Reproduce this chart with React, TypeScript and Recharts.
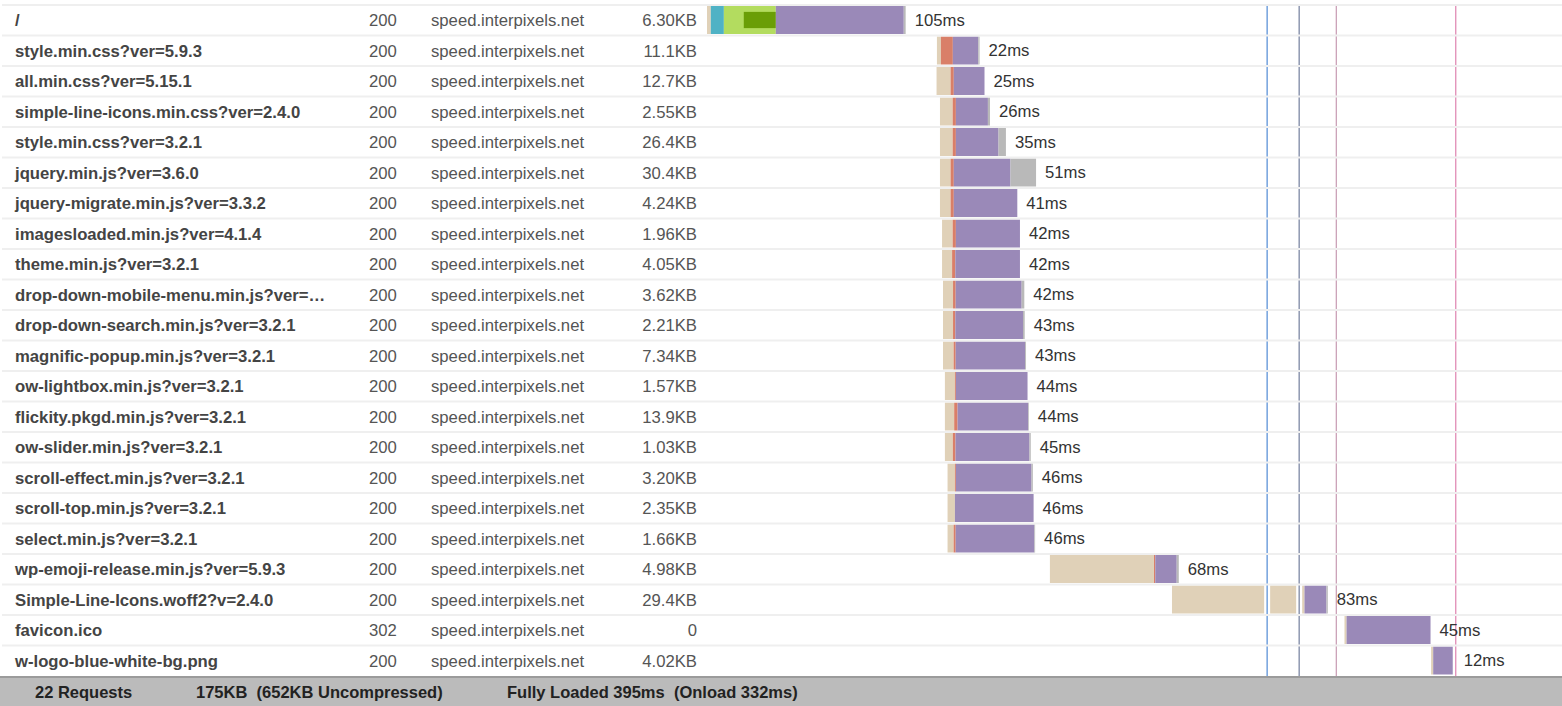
import React from "react";
import { BarChart, Bar, XAxis, YAxis, ReferenceLine, LabelList } from "recharts";

const files = [
  "/",
  "style.min.css?ver=5.9.3",
  "all.min.css?ver=5.15.1",
  "simple-line-icons.min.css?ver=2.4.0",
  "style.min.css?ver=3.2.1",
  "jquery.min.js?ver=3.6.0",
  "jquery-migrate.min.js?ver=3.3.2",
  "imagesloaded.min.js?ver=4.1.4",
  "theme.min.js?ver=3.2.1",
  "drop-down-mobile-menu.min.js?ver=…",
  "drop-down-search.min.js?ver=3.2.1",
  "magnific-popup.min.js?ver=3.2.1",
  "ow-lightbox.min.js?ver=3.2.1",
  "flickity.pkgd.min.js?ver=3.2.1",
  "ow-slider.min.js?ver=3.2.1",
  "scroll-effect.min.js?ver=3.2.1",
  "scroll-top.min.js?ver=3.2.1",
  "select.min.js?ver=3.2.1",
  "wp-emoji-release.min.js?ver=5.9.3",
  "Simple-Line-Icons.woff2?v=2.4.0",
  "favicon.ico",
  "w-logo-blue-white-bg.png",
];
const statuses = [200, 200, 200, 200, 200, 200, 200, 200, 200, 200, 200, 200, 200, 200, 200, 200, 200, 200, 200, 200, 302, 200];
const host = "speed.interpixels.net";
const sizes = [
  "6.30KB", "11.1KB", "12.7KB", "2.55KB", "26.4KB", "30.4KB", "4.24KB", "1.96KB", "4.05KB", "3.62KB", "2.21KB",
  "7.34KB", "1.57KB", "13.9KB", "1.03KB", "3.20KB", "2.35KB", "1.66KB", "4.98KB", "29.4KB", "0", "4.02KB",
];
const durations = [105, 22, 25, 26, 35, 51, 41, 42, 42, 42, 43, 43, 44, 44, 45, 46, 46, 46, 68, 83, 45, 12];

// timings in ms
const starts = [0, 121.3, 121.1, 122.9, 122.9, 122.9, 122.9, 124.0, 124.0, 124.5, 124.5, 124.5, 125.5, 125.5, 125.5, 126.9, 126.9, 126.9, 180.9, 245.3, 336.3, 382.0];
const blocked = [2.0, 2.1, 7.4, 6.7, 6.7, 5.6, 5.6, 5.6, 5.3, 5.3, 5.3, 5.6, 5.3, 4.9, 4.2, 3.9, 3.9, 3.2, 54.9, 69.9, 1.1, 1.1];
const dns = [6.9, 0, 0, 0, 0, 0, 0, 0, 0, 0, 0, 0, 0, 0, 0, 0, 0, 0, 0, 0, 0, 0];
const connect = [27.4, 0, 0, 0, 0, 0, 0, 0, 0, 0, 0, 0, 0, 0, 0, 0, 0, 0, 0, 0, 0, 0];
const ssl = [16.9, 0, 0, 0, 0, 0, 0, 0, 0, 0, 0, 0, 0, 0, 0, 0, 0, 0, 0, 0, 0, 0];
const ttfb = [0, 6.3, 1.7, 1.7, 1.7, 1.7, 1.7, 1.7, 1.7, 1.4, 1.2, 1.1, 0.5, 1.8, 1.4, 0.5, 0, 1.1, 0.7, 0, 0, 0];
const download = [67.5, 13.4, 16.2, 16.9, 22.5, 29.9, 33.5, 33.8, 34.1, 34.8, 35.7, 36.6, 37.8, 37.2, 39.0, 39.9, 41.5, 41.5, 11.3, 11.6, 44.3, 10.5];
const tail = [1.0, 0.7, 0, 1.1, 3.9, 13.5, 0, 0, 0, 1.4, 0.9, 0.5, 0, 0.4, 0.7, 0.7, 0, 0.4, 1.1, 0.7, 0, 0.9];

const markerTimes = [295.5, 312.4, 332, 395];
const markerColors = ["#5d93d8", "#7d88a4", "#cba2b8", "#e08cb6"];

const W = 1562;
const H = 676;
const TOP = 5;
const BAND = (H - TOP) / files.length;
const FONT = "'Liberation Sans', Arial, sans-serif";
const FS = 16.7;

const rows = files.map((file, i) => ({
  file,
  start: starts[i],
  blocked: blocked[i],
  dns: dns[i],
  connect: connect[i],
  ssl: ssl[i],
  ttfb: ttfb[i],
  download: download[i],
  tail: tail[i],
  label: `${durations[i]}ms`,
}));

function RowTick(props: any) {
  const { y, payload } = props;
  const i = payload.index;
  return (
    <g fontFamily={FONT} fontSize={FS}>
      <rect x={2} y={y - BAND / 2 - 1} width={W - 2} height={2} fill="#efefef" />
      <text x={15} y={y} dy="0.35em" fontWeight="bold" fill="#444">{files[i]}</text>
      <text x={369} y={y} dy="0.35em" fill="#555">{statuses[i]}</text>
      <text x={431} y={y} dy="0.35em" fill="#555">{host}</text>
      <text x={697} y={y} dy="0.35em" fill="#555" textAnchor="end">{sizes[i]}</text>
    </g>
  );
}

function ConnectShape(props: any) {
  const { x, y, width, height, payload } = props;
  if (!width) return null;
  const w = (width * payload.ssl) / payload.connect;
  return (
    <g>
      <rect x={x} y={y} width={width} height={height} fill="#b3dc5f" />
      {w > 0 && <rect x={x + width - w} y={y + height * 0.21} width={w} height={height * 0.58} fill="#6a9e06" />}
    </g>
  );
}

// duration label placed after the end of the whole stack
function EndLabel(props: any) {
  const { x, y, width, height, index } = props;
  const tailW = (width * tail[index]) / download[index];
  return (
    <text x={x + width + tailW + 9} y={y + height / 2} dy="0.35em" fill="#333" fontSize={FS} fontFamily={FONT}>
      {rows[index].label}
    </text>
  );
}

export default function App() {
  return (
    <div style={{ width: W, background: "#fff" }}>
      <style>{"body{margin:0}"}</style>
      <BarChart
        width={W}
        height={H}
        data={rows}
        layout="vertical"
        margin={{ top: TOP, right: 2, bottom: 0, left: 0 }}
        barSize={28}
      >
        <XAxis type="number" domain={[0, 450]} hide />
        <YAxis
          type="category"
          dataKey="file"
          width={707}
          axisLine={false}
          tickLine={false}
          interval={0}
          tick={<RowTick />}
        />
        <Bar dataKey="start" stackId="a" fill="transparent" isAnimationActive={false} />
        <Bar dataKey="blocked" stackId="a" fill="#e0d1b8" isAnimationActive={false} />
        <Bar dataKey="dns" stackId="a" fill="#4fb2c5" isAnimationActive={false} />
        <Bar dataKey="connect" stackId="a" fill="#b3dc5f" shape={<ConnectShape />} isAnimationActive={false} />
        <Bar dataKey="ttfb" stackId="a" fill="#d97f68" isAnimationActive={false} />
        <Bar dataKey="download" stackId="a" fill="#9a89b8" isAnimationActive={false}>
          <LabelList dataKey="label" content={<EndLabel />} />
        </Bar>
        <Bar dataKey="tail" stackId="a" fill="#b9b9b9" isAnimationActive={false} />
        {markerTimes.map((t, i) => (
          <ReferenceLine key={"h" + i} x={t} stroke="#fff" strokeWidth={6} />
        ))}
        {markerTimes.map((t, i) => (
          <ReferenceLine key={"m" + i} x={t} stroke={markerColors[i]} strokeWidth={1.3} />
        ))}
      </BarChart>
      <div
        style={{
          position: "relative",
          height: 28,
          background: "#bbbbbb",
          borderTop: "2px solid #9b9b9b",
          fontFamily: FONT,
          fontWeight: "bold",
          fontSize: 16.5,
          color: "#222",
          lineHeight: "28px",
        }}
      >
        <span style={{ position: "absolute", left: 35 }}>22 Requests</span>
        <span style={{ position: "absolute", left: 196, whiteSpace: "pre" }}>175KB  (652KB Uncompressed)</span>
        <span style={{ position: "absolute", left: 507, whiteSpace: "pre" }}>Fully Loaded 395ms  (Onload 332ms)</span>
      </div>
    </div>
  );
}
